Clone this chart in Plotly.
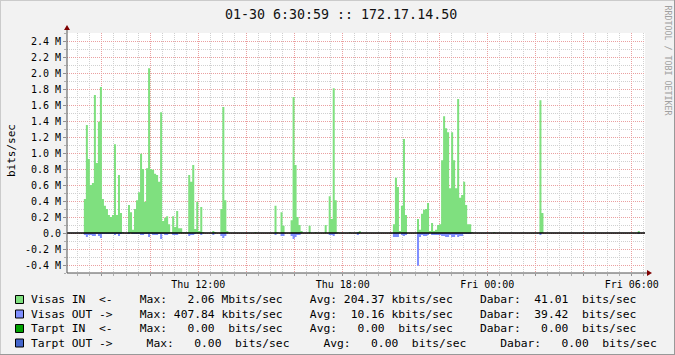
import pandas as pd
import plotly.graph_objects as go

# ---------------- data (Mbits/sec, 5-minute steps) ----------------
TITLE = "01-30 6:30:59 :: 172.17.14.50"
START = "2009-01-29 06:35"          # first 5-min interval (Thu)
STEP = "5min"
X_RANGE = ["2009-01-29 06:33", "2009-01-30 06:33"]

IN_MBPS = [
    0, 0, 0, 0, 0, 0, 0, 0, 0.425, 1.35, 0.925, 0.6,
    0.625, 1.725, 0.875, 1.39, 1.825, 0.425, 0.34, 0.3, 0.225, 0.2, 0.225, 1.11,
    0.225, 0.725, 0.25, 0.01, 0, 0, 0.35, 0.26, 0.04, 0.3, 0.41, 0.51,
    0.99, 0.8, 0.39, 0.81, 2.06, 0.8, 0.79, 0.74, 0.725, 0.64, 1.51, 0.15,
    0.19, 0.21, 0.11, 0.01, 0.21, 0.075, 0.275, 0.06, 0.06, 0.01, 0.01, 0.01,
    0.725, 0.64, 0.85, 0.05, 0.39, 0.025, 0.325, 0.01, 0, 0, 0, 0,
    0.025, 0.01, 0, 0, 0.3, 1.575, 0.41, 0.025, 0, 0, 0, 0,
    0, 0, 0, 0, 0, 0, 0, 0, 0, 0.01, 0, 0,
    0, 0, 0, 0, 0, 0, 0, 0.34, 0.01, 0, 0.26, 0.09,
    0, 0, 0, 0.16, 1.7, 0.85, 0.2, 0.1, 0.025, 0, 0, 0,
    0.09, 0, 0, 0.01, 0, 0, 0, 0, 0.1, 0, 0.46, 0.175,
    1.81, 0.41, 0.01, 0, 0, 0, 0, 0, 0.01, 0, 0, 0,
    0.01, 0.025, 0, 0, 0, 0, 0, 0, 0, 0, 0, 0,
    0, 0, 0, 0, 0, 0, 0.11, 0.69, 0.575, 0.025, 0.34, 1.175,
    0.225, 0, 0, 0, 0, 0, 0.175, 0.04, 0.24, 0.29, 0.3, 0.375,
    0.025, 0.125, 0.025, 0.04, 0.1, 0.11, 0.91, 1.46, 1.31, 1.26, 0.56, 1.26,
    0.91, 0.56, 1.675, 0.44, 0.475, 0.64, 0.35, 0.11, 0.11, 0.01, 0, 0,
    0, 0, 0, 0, 0, 0, 0, 0, 0.01, 0, 0, 0,
    0, 0, 0, 0, 0, 0, 0, 0, 0, 0, 0, 0,
    0, 0, 0, 0, 0, 0, 0, 1.66, 0.25, 0, 0, 0,
    0, 0, 0, 0, 0, 0, 0, 0, 0, 0, 0, 0,
    0, 0, 0, 0, 0, 0, 0, 0, 0, 0, 0, 0,
    0, 0, 0, 0, 0, 0, 0, 0, 0, 0, 0, 0,
    0, 0, 0, 0, 0, 0, 0, 0, 0.025, 0, 0, 0,
]

OUT_MBPS = [
    0, 0, 0, 0, 0, 0, 0, 0, 0.025, 0.05, 0.025, 0.025,
    0.0375, 0.0375, 0.0125, 0.0375, 0.0625, 0.0125, 0.0125, 0.0125, 0.0125, 0.0125, 0.0125, 0.025,
    0.0125, 0.0375, 0.0125, 0, 0, 0, 0.0125, 0, 0.0125, 0.0125, 0.0125, 0.0125,
    0.025, 0.025, 0.0125, 0.0125, 0.05, 0.0125, 0.025, 0.025, 0.025, 0.0125, 0.075, 0.0125,
    0.025, 0.025, 0.0125, 0, 0.025, 0.025, 0.025, 0, 0, 0, 0, 0,
    0.0375, 0.025, 0.025, 0.0125, 0, 0, 0.025, 0, 0, 0, 0, 0,
    0.025, 0, 0, 0, 0.0375, 0.0625, 0.0375, 0, 0, 0, 0, 0,
    0, 0, 0, 0, 0, 0, 0, 0, 0, 0, 0, 0,
    0, 0, 0, 0, 0, 0, 0, 0.025, 0, 0, 0.0375, 0.0375,
    0, 0, 0, 0.0375, 0.075, 0.05, 0.025, 0.025, 0, 0, 0, 0,
    0, 0, 0, 0, 0, 0, 0, 0, 0, 0, 0.025, 0.025,
    0.0375, 0.0125, 0, 0, 0, 0, 0, 0, 0, 0, 0, 0,
    0.025, 0, 0, 0, 0, 0, 0, 0, 0, 0, 0, 0,
    0, 0, 0, 0, 0, 0, 0.05, 0.05, 0.05, 0, 0.025, 0.0375,
    0.025, 0, 0, 0, 0, 0, 0.408, 0.05, 0.025, 0.0375, 0.0375, 0.025,
    0, 0.025, 0.025, 0.025, 0.025, 0.025, 0.0375, 0.0375, 0.05, 0.05, 0.025, 0.05,
    0.05, 0.025, 0.05, 0.0375, 0.0375, 0.0125, 0.0125, 0.0125, 0.0125, 0, 0, 0,
    0, 0, 0, 0, 0, 0, 0, 0, 0, 0, 0, 0,
    0, 0, 0, 0, 0, 0, 0, 0, 0, 0, 0, 0,
    0, 0, 0, 0, 0, 0, 0, 0.025, 0, 0, 0, 0,
    0, 0, 0, 0, 0, 0, 0, 0, 0, 0, 0, 0,
    0, 0, 0, 0, 0, 0, 0, 0, 0, 0, 0, 0,
    0, 0, 0, 0, 0, 0, 0, 0, 0, 0, 0, 0,
    0, 0, 0, 0, 0, 0, 0, 0, 0.0125, 0, 0, 0,
]

Y_TICKS = [-0.4, -0.2, 0.0, 0.2, 0.4, 0.6, 0.8, 1.0, 1.2, 1.4, 1.6, 1.8, 2.0, 2.2, 2.4]
Y_TICK_LABELS = ["-0.4 M", "-0.2 M", "0.0", "0.2 M", "0.4 M", "0.6 M", "0.8 M", "1.0 M",
                 "1.2 M", "1.4 M", "1.6 M", "1.8 M", "2.0 M", "2.2 M", "2.4 M"]
Y_MINOR = [-0.5, -0.3, -0.1, 0.1, 0.3, 0.5, 0.7, 0.9, 1.1, 1.3, 1.5, 1.7, 1.9, 2.1, 2.3, 2.5]

LEGEND_ROWS = [
    "Visas IN  <-    Max:   2.06 Mbits/sec    Avg: 204.37 kbits/sec    Dabar:  41.01  bits/sec",
    "Visas OUT ->    Max: 407.84 kbits/sec    Avg:  10.16 kbits/sec    Dabar:  39.42  bits/sec",
    "Tarpt IN  <-    Max:   0.00  bits/sec    Avg:   0.00  bits/sec    Dabar:   0.00  bits/sec",
    "Tarpt OUT ->     Max:   0.00  bits/sec     Avg:   0.00  bits/sec     Dabar:   0.00  bits/sec",
]
LEGEND_COLORS = ["#7FE07F", "#7F8FFF", "#00A000", "#4466CC"]

# ---------------- geometry ----------------
W, H = 675, 355
L, R, T, B = 67, 30, 33, 82
PW, PH = W - L - R, H - T - B
MONO = "DejaVu Sans Mono"


def px(x):
    return (x - L) / PW


def py(y):
    return (H - B - y) / PH


times = pd.date_range(START, periods=len(IN_MBPS) + 1, freq=STEP)
in_y = list(IN_MBPS) + [IN_MBPS[-1]]
out_y = [-v for v in OUT_MBPS] + [-OUT_MBPS[-1]]

fig = go.Figure()
fig.add_trace(go.Scatter(x=times, y=in_y, mode="lines", line=dict(width=0, shape="hv"),
                         fill="tozeroy", fillcolor=LEGEND_COLORS[0], hoverinfo="skip"))
fig.add_trace(go.Scatter(x=times, y=out_y, mode="lines", line=dict(width=0, shape="hv"),
                         fill="tozeroy", fillcolor=LEGEND_COLORS[1], hoverinfo="skip"))

major_x = pd.date_range("2009-01-29 08:00", "2009-01-30 06:00", freq="2h")
major_txt = [t.strftime("%a %H:%M") if t.hour % 6 == 0 else "" for t in major_x]
minor_x = [t for t in pd.date_range("2009-01-29 07:00", "2009-01-30 06:30", freq="30min")
           if not (t.minute == 0 and t.hour % 2 == 0)]

MGRID = "#EAA0A0"
GRID = "#D0D0D0"

fig.update_xaxes(
    type="date", range=X_RANGE, tickmode="array", tickvals=major_x, ticktext=major_txt,
    showgrid=True, gridcolor=MGRID, griddash="1px,1px", gridwidth=1,
    ticks="outside", ticklen=2, tickcolor="#909090",
    tickfont=dict(family=MONO, size=10, color="black"),
    showline=False, zeroline=False, fixedrange=True,
    minor=dict(tickmode="array", tickvals=minor_x, showgrid=True,
               gridcolor=GRID, griddash="1px,1px", ticks="outside", ticklen=2,
               tickcolor="#B0B0B0"),
)
fig.update_yaxes(
    range=[-0.5, 2.5], tickmode="array", tickvals=Y_TICKS, ticktext=Y_TICK_LABELS,
    showgrid=True, gridcolor=MGRID, griddash="1px,1px", gridwidth=1,
    ticks="outside", ticklen=3, tickcolor="#909090",
    tickfont=dict(family=MONO, size=10, color="black"),
    showline=False, zeroline=False, fixedrange=True,
    minor=dict(tickmode="array", tickvals=Y_MINOR, showgrid=True, gridcolor=GRID,
               griddash="1px,1px", ticks="outside", ticklen=2, tickcolor="#B0B0B0"),
)

shapes = []
# frame bevel
shapes.append(dict(type="line", xref="paper", yref="paper", x0=px(0), x1=px(W), y0=py(0.5), y1=py(0.5),
                   line=dict(color="#CBCBCB", width=1)))
shapes.append(dict(type="line", xref="paper", yref="paper", x0=px(0.5), x1=px(0.5), y0=py(0), y1=py(H),
                   line=dict(color="#CBCBCB", width=1)))
shapes.append(dict(type="line", xref="paper", yref="paper", x0=px(0), x1=px(W), y0=py(H - 0.5), y1=py(H - 0.5),
                   line=dict(color="#999999", width=1)))
shapes.append(dict(type="line", xref="paper", yref="paper", x0=px(W - 0.5), x1=px(W - 0.5), y0=py(0), y1=py(H),
                   line=dict(color="#999999", width=1)))
# zero rule
shapes.append(dict(type="line", xref="paper", yref="y", x0=0, x1=1, y0=0, y1=0,
                   line=dict(color="black", width=1.5), layer="above"))
# axes
shapes.append(dict(type="line", xref="paper", yref="paper", x0=0, x1=px(648), y0=0, y1=0,
                   line=dict(color="#505050", width=1), layer="above"))
shapes.append(dict(type="line", xref="paper", yref="paper", x0=0, x1=0, y0=0, y1=py(30),
                   line=dict(color="#505050", width=1), layer="above"))
# arrows
shapes.append(dict(type="path", xref="paper", yref="paper",
                   path=f"M {px(652)},{py(273)} L {px(647)},{py(270)} L {px(647)},{py(276)} Z",
                   fillcolor="#7F0000", line=dict(width=0), layer="above"))
shapes.append(dict(type="path", xref="paper", yref="paper",
                   path=f"M {px(67)},{py(25)} L {px(64)},{py(30)} L {px(70)},{py(30)} Z",
                   fillcolor="#7F0000", line=dict(width=0), layer="above"))

annotations = []
row_y = [299.5, 314, 328.5, 343]
for txt, col, yy in zip(LEGEND_ROWS, LEGEND_COLORS, row_y):
    shapes.append(dict(type="rect", xref="paper", yref="paper",
                       x0=px(15.5), x1=px(23.5), y0=py(yy - 4), y1=py(yy + 4),
                       fillcolor=col, line=dict(color="black", width=1)))
    annotations.append(dict(xref="paper", yref="paper", x=px(29), y=py(yy), xanchor="left",
                            yanchor="middle", showarrow=False, text=txt.replace(" ", "\u00a0"),
                            font=dict(family=MONO, size=11.3, color="black")))

annotations.append(dict(xref="paper", yref="paper", x=px(341), y=py(14), xanchor="center",
                        yanchor="middle", showarrow=False, text=TITLE,
                        font=dict(family=MONO, size=13.3, color="#111111")))
annotations.append(dict(xref="paper", yref="paper", x=px(11), y=py(151), xanchor="center",
                        yanchor="middle", showarrow=False, text="bits/sec", textangle=-90,
                        font=dict(family=MONO, size=11, color="black")))
annotations.append(dict(xref="paper", yref="paper", x=px(667.5), y=py(60), xanchor="center",
                        yanchor="middle", showarrow=False, text="RRDTOOL / TOBI OETIKER",
                        textangle=90, font=dict(family=MONO, size=8.3, color="#A0A0A0")))

fig.update_layout(
    width=W, height=H, margin=dict(l=L, r=R, t=T, b=B, pad=0),
    paper_bgcolor="#F2F2F2", plot_bgcolor="#FFFFFF",
    showlegend=False, shapes=shapes, annotations=annotations,
    font=dict(family=MONO, size=10, color="black"),
)

fig.write_html("out.html", config={"displayModeBar": False})
